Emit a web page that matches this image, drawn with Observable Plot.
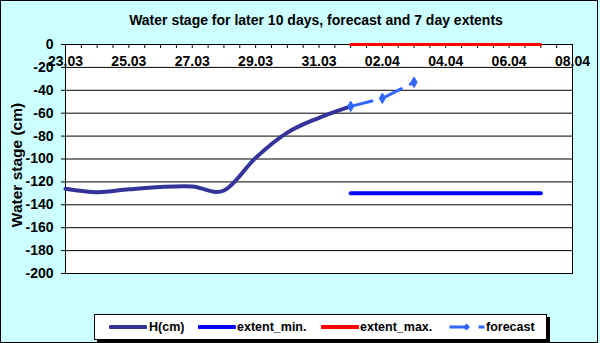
<!DOCTYPE html>
<html>
<head>
<meta charset="utf-8">
<script src="https://cdn.jsdelivr.net/npm/d3@7"></script>
<script src="https://cdn.jsdelivr.net/npm/@observablehq/plot@0.6"></script>
<style>
  html, body { margin: 0; padding: 0; }
  #chart { position: relative; width: 600px; height: 343px; background: #ccffff; font-family: "Liberation Sans", Arial, sans-serif; overflow: hidden; }
  #frame { position: absolute; left: 0; top: 0; width: 598px; height: 343px; border: 1px solid #000; box-sizing: border-box; pointer-events: none; }
  #plot { position: absolute; left: 0; top: 0; }
  #title { position: absolute; left: 0; top: 13px; width: 632px; text-align: center; font-weight: bold; font-size: 14px; line-height: 14px; white-space: nowrap; }
  #ylabel { position: absolute; left: 17px; top: 165px; transform: translate(-50%, -50%) rotate(-90deg); font-weight: bold; font-size: 15.5px; white-space: nowrap; line-height: 16px; }
  #legend { position: absolute; left: 94px; top: 314px; width: 453px; height: 26px; box-sizing: border-box; border: 1px solid #000; background: #fff; box-shadow: 3px 3px 0 #000; }
  #legend .sw { position: absolute; top: 6px; }
  #legend .lt { position: absolute; top: 5px; font-weight: bold; font-size: 12.5px; line-height: 14px; white-space: nowrap; }
</style>
</head>
<body>
<div id="chart">
  <div id="plot"></div>
  <div id="title">Water stage for later 10 days, forecast and 7 day extents</div>
  <div id="ylabel">Water stage (cm)</div>
  <div id="legend"></div>
  <div id="frame"></div>
</div>
<script>
// ---- data ----
const hDates = ["2024-03-23","2024-03-24","2024-03-25","2024-03-26","2024-03-27","2024-03-28","2024-03-29","2024-03-30","2024-03-31","2024-04-01"];
const hValues = [-126, -129, -126.5, -124.5, -124, -127.5, -99, -77, -64, -54];
const extentDates = ["2024-04-01","2024-04-07"];
const extentMin = [-130, -130];
const extentMax = [0, 0];
const forecastDates = ["2024-04-01","2024-04-02","2024-04-03"];
const forecastValues = [-54, -47, -33];
const yTicks = [0, -20, -40, -60, -80, -100, -120, -140, -160, -180, -200];
const xLabelDates = ["2024-03-23","2024-03-25","2024-03-27","2024-03-29","2024-03-31","2024-04-02","2024-04-04","2024-04-06","2024-04-08"];
const xLabels = ["23.03","25.03","27.03","29.03","31.03","02.04","04.04","06.04","08.04"];
const xDomain = ["2024-03-23","2024-04-08"];

const colH = "#333399", colMin = "#0000ff", colMax = "#ff0000", colF = "#3366ff";

const H = hDates.map((d,i) => ({date: new Date(d), v: hValues[i]}));
const EMin = extentDates.map((d,i) => ({date: new Date(d), v: extentMin[i]}));
const EMax = extentDates.map((d,i) => ({date: new Date(d), v: extentMax[i]}));
const F = forecastDates.map((d,i) => ({date: new Date(d), v: forecastValues[i]}));
const XL = xLabelDates.map((d,i) => ({date: new Date(d), label: xLabels[i]}));
const d0 = new Date(xDomain[0]), d1 = new Date(xDomain[1]);
const halfDays = d3.utcHour.every(12).range(d0, new Date(+d1 + 1));

const chart = Plot.plot({
  width: 600, height: 343,
  marginTop: 44, marginBottom: 70, marginLeft: 65, marginRight: 28,
  style: {background: "transparent", fontFamily: "'Liberation Sans', Arial, sans-serif", fontSize: "14px", fontWeight: "bold", color: "#000", overflow: "visible"},
  x: {type: "utc", domain: [d0, d1], axis: null},
  y: {domain: [-200, 0]},
  marks: [
    Plot.frame({fill: "white", stroke: null}),
    Plot.ruleY(yTicks, {stroke: "#000", strokeWidth: 1}),
    Plot.frame({stroke: "#000", strokeWidth: 1}),
    Plot.ruleX(halfDays, {stroke: "#000", insetBottom: 225}),
    Plot.axisY({ticks: yTicks, tickSize: 4, tickPadding: 8, tickFormat: d => String(d), label: null, fontSize: 14, fontWeight: "bold"}),
    Plot.text(XL, {x: "date", y: () => 0, text: "label", dy: 17.5, fontSize: 14, fontWeight: "bold", fill: "#000"}),
    Plot.line(H, {x: "date", y: "v", stroke: colH, strokeWidth: 4, curve: "cardinal", strokeLinecap: "round", strokeLinejoin: "round"}),
    Plot.line(EMin, {x: "date", y: "v", stroke: colMin, strokeWidth: 4, strokeLinecap: "round"}),
    Plot.line(EMax, {x: "date", y: "v", stroke: colMax, strokeWidth: 3, strokeLinecap: "round"}),
    Plot.line(F, {x: "date", y: "v", stroke: colF, strokeWidth: 3, strokeDasharray: "22,10"}),
    Plot.dot(F, {x: "date", y: "v", symbol: "diamond", r: 3.2, fill: colF, stroke: colF, strokeWidth: 1})
  ]
});
document.getElementById("plot").appendChild(chart);

// ---- legend ----
const legendItems = [
  {name: "H(cm)", color: colH, width: 4, dash: null, marker: false, sx: 14, tx: 54},
  {name: "extent_min.", color: colMin, width: 4, dash: null, marker: false, sx: 103, tx: 142},
  {name: "extent_max.", color: colMax, width: 4, dash: null, marker: false, sx: 226, tx: 265},
  {name: "forecast", color: colF, width: 3, dash: "19,10", marker: true, sx: 353, tx: 391}
];
const legend = document.getElementById("legend");
legendItems.forEach(it => {
  const sw = d3.create("svg").attr("class", "sw").attr("width", 38).attr("height", 12)
    .style("left", it.sx + "px");
  sw.append("line").attr("x1", 1.5).attr("x2", 36.5).attr("y1", 6).attr("y2", 6)
    .attr("stroke", it.color).attr("stroke-width", it.width)
    .attr("stroke-linecap", it.dash ? "butt" : "round")
    .attr("stroke-dasharray", it.dash);
  if (it.marker) {
    sw.append("path").attr("d", "M18.5,2.5L22,6L18.5,9.5L15,6Z").attr("fill", it.color);
  }
  legend.appendChild(sw.node());
  const t = document.createElement("div");
  t.className = "lt";
  t.style.left = it.tx + "px";
  t.textContent = it.name;
  legend.appendChild(t);
});
</script>
</body>
</html>
